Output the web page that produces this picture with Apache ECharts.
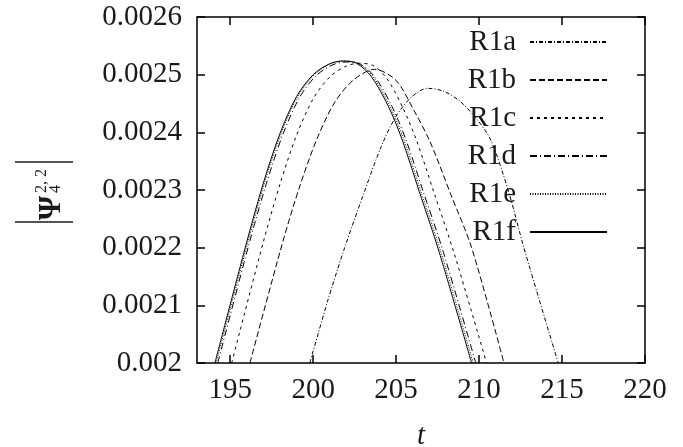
<!DOCTYPE html>
<html>
<head>
<meta charset="utf-8">
<script src="https://cdn.jsdelivr.net/npm/echarts@6/dist/echarts.min.js"></script>
<style>html,body{margin:0;padding:0;background:#fff;}#c{width:683px;height:447px;}</style>
</head>
<body>
<div id="c"></div>
<script>
var seriesNames = ['R1a', 'R1b', 'R1c', 'R1d', 'R1e', 'R1f'];
var xTicks = [195, 200, 205, 210, 215, 220];
var yTicks = [0.002, 0.0021, 0.0022, 0.0023, 0.0024, 0.0025, 0.0026];

var R1a = [[199.8,0.0020],[200.9,0.00211],[201.9,0.0022],[203.0,0.00229],[204.1,0.002375],[205.0,0.002428],[206.0,0.002463],[206.9,0.0024763],[207.8,0.002472],[208.8,0.002455],[209.8,0.002425],[210.7,0.002387],[211.8,0.002295],[212.7,0.0022],[214.77,0.0020]];
var R1b = [[196.19,0.0020],[198.15,0.002208],[199.2,0.002307],[200.25,0.00239],[201.3,0.002452],[202.4,0.00249],[203.7,0.0025093],[205.0,0.00249],[206.0,0.002442],[207.04,0.002384],[208.3,0.002292],[209.55,0.0022],[211.5,0.0020]];
var R1c = [[195.09,0.0020],[197.0,0.00221],[198.0,0.00231],[199.0,0.002395],[200.0,0.002458],[201.0,0.002496],[202.0,0.002515],[202.8,0.0025197],[203.6,0.002516],[204.45,0.002493],[205.4,0.002443],[206.23,0.002386],[207.3,0.002294],[208.5,0.00219],[210.45,0.0020]];
var R1d = [[194.25,0.0020],[196.17,0.00221],[197.17,0.00231],[198.17,0.002396],[199.17,0.00246],[200.17,0.002498],[201.17,0.002517],[202.0,0.002522],[202.85,0.002518],[203.75,0.002495],[204.75,0.002445],[205.58,0.002388],[206.65,0.002296],[207.85,0.002192],[209.8,0.0020]];
var R1e = [[194.15,0.0020],[196.07,0.00221],[197.07,0.002312],[198.07,0.002398],[199.07,0.002462],[200.07,0.0025],[201.07,0.002519],[201.87,0.0025235],[202.7,0.00252],[203.6,0.002497],[204.6,0.002447],[205.43,0.00239],[206.5,0.002297],[207.7,0.002192],[209.65,0.0020]];
var R1f = [[194.08,0.0020],[196.0,0.00221],[197.0,0.002312],[198.0,0.002398],[199.0,0.002462],[200.0,0.0025],[201.0,0.002519],[201.8,0.0025237],[202.6,0.00252],[203.5,0.002497],[204.5,0.002447],[205.33,0.00239],[206.4,0.002297],[207.6,0.002192],[209.55,0.0020]];

var seriesData = [R1a, R1b, R1c, R1d, R1e, R1f];
var dashes = [[4,2,1,2],[6,3],[3,4],[7,3,1,3],[1,1.5],'solid'];

var FONT = 'Liberation Serif';
var chart = echarts.init(document.getElementById('c'), null, {renderer: 'canvas'});

function fmtY(v) {
  var s = v.toFixed(4);
  s = s.replace(/0+$/, '');
  return s;
}

var axisLineStyle = {color: '#000', width: 1.5};
var series = seriesNames.map(function (n, i) {
  return {
    name: n, type: 'line', data: seriesData[i], xAxisIndex: 0, yAxisIndex: 0,
    symbol: 'none', showSymbol: false, smooth: 0.3,
    lineStyle: {color: '#000', width: 1, type: dashes[i]},
    itemStyle: {color: '#000'}
  };
});

chart.setOption({
  animation: false,
  backgroundColor: '#fff',
  grid: {left: 197, right: 38, top: 17, bottom: 84, containLabel: false, outerBoundsMode: 'none'},
  legend: {
    data: seriesNames, orient: 'vertical', align: 'right', right: 75, top: 27, padding: 0,
    itemWidth: 77, itemHeight: 14, itemGap: 8,
    itemStyle: {opacity: 0},
    textStyle: {fontFamily: FONT, fontSize: 29, color: '#1a1a1a', lineHeight: 30, padding: [0, 9, 0, 0]}
  },
  xAxis: [{
    type: 'value', min: 193, max: 220, position: 'bottom',
    name: 't', nameLocation: 'middle', nameGap: 59,
    nameTextStyle: {fontFamily: FONT, fontStyle: 'italic', fontSize: 29, color: '#1a1a1a'},
    axisLine: {show: true, lineStyle: axisLineStyle},
    axisTick: {show: true, inside: true, length: 8, customValues: xTicks, lineStyle: axisLineStyle},
    axisLabel: {customValues: xTicks, fontFamily: FONT, fontSize: 29, color: '#1a1a1a', margin: 13},
    splitLine: {show: false}
  }, {
    type: 'value', min: 193, max: 220, position: 'top',
    axisLine: {show: true, lineStyle: axisLineStyle},
    axisTick: {show: true, inside: true, length: 8, customValues: xTicks, lineStyle: axisLineStyle},
    axisLabel: {show: false},
    splitLine: {show: false}
  }],
  yAxis: [{
    type: 'value', min: 0.002, max: 0.0026, interval: 0.0001, position: 'left',
    axisLine: {show: true, lineStyle: axisLineStyle},
    axisTick: {show: true, inside: true, length: 8, lineStyle: axisLineStyle},
    axisLabel: {formatter: fmtY, fontFamily: FONT, fontSize: 29, color: '#1a1a1a', margin: 15},
    splitLine: {show: false}
  }, {
    type: 'value', min: 0.002, max: 0.0026, interval: 0.0001, position: 'right',
    axisLine: {show: true, lineStyle: axisLineStyle},
    axisTick: {show: true, inside: true, length: 8, lineStyle: axisLineStyle},
    axisLabel: {show: false},
    splitLine: {show: false}
  }],
  graphic: [{
    type: 'group', x: 44, y: 192, rotation: Math.PI / 2,
    children: [
      {type: 'line', shape: {x1: -30, y1: -29, x2: -30, y2: 29}, style: {stroke: '#1a1a1a', lineWidth: 1.5}},
      {type: 'line', shape: {x1: 30, y1: -29, x2: 30, y2: 29}, style: {stroke: '#1a1a1a', lineWidth: 1.5}},
      {type: 'text', x: -16, y: 8, style: {text: 'Ψ', font: 'bold 31px "Liberation Serif"', fill: '#1a1a1a', textAlign: 'center', textVerticalAlign: 'middle'}},
      {type: 'text', x: -1, y: -2, style: {text: '2, 2', font: '16px "Liberation Serif"', fill: '#1a1a1a', textAlign: 'left', textVerticalAlign: 'middle'}},
      {type: 'text', x: -1, y: 12, style: {text: '4', font: '16px "Liberation Serif"', fill: '#1a1a1a', textAlign: 'left', textVerticalAlign: 'middle'}}
    ]
  }],
  series: series
});
</script>
</body>
</html>
